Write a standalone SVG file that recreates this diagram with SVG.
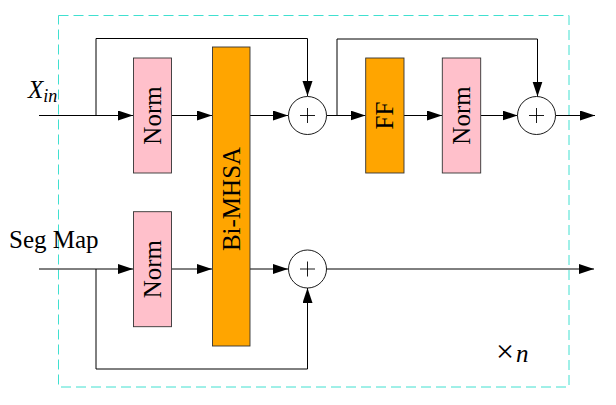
<svg xmlns="http://www.w3.org/2000/svg" width="616" height="405" viewBox="0 0 616 405">
  <style>
    .norm { fill: #FFC0CB; stroke: #333; stroke-width: 0.9; }
    .op { fill: #FFA500; stroke: #333; stroke-width: 0.9; }
    .sum { fill: #fff; stroke: #000; stroke-width: 0.9; }
    .plus { stroke: #000; stroke-width: 0.9; }
    .wire { fill: none; stroke: #000; stroke-width: 1; }
    .lbl { font-family: "Liberation Serif", "DejaVu Serif", serif; font-size: 25px; fill: #000; }
    .math { font-style: italic; }
  </style>
  <defs>
    <marker id="tip" markerUnits="userSpaceOnUse" markerWidth="16" markerHeight="12" refX="15" refY="5" orient="auto">
      <path d="M0,0 L15,5 L0,10 Z" fill="#000"/>
    </marker>
  </defs>

  <rect x="58.5" y="15.5" width="510.5" height="371.5" fill="none" stroke="#40E0D0" stroke-width="1" stroke-dasharray="10,5"/>

  <g id="connectors">
    <!-- top stream -->
    <path class="wire" d="M39,115.5 H133" marker-end="url(#tip)"/>
    <path class="wire" d="M96,115.5 V38.5 H307.5 V96" marker-end="url(#tip)"/>
    <path class="wire" d="M172,115.5 H212" marker-end="url(#tip)"/>
    <path class="wire" d="M250,115.5 H288" marker-end="url(#tip)"/>
    <path class="wire" d="M326.5,115.5 H365.5" marker-end="url(#tip)"/>
    <path class="wire" d="M337,115.5 V39 H537.5 V96.5" marker-end="url(#tip)"/>
    <path class="wire" d="M404,115.5 H442" marker-end="url(#tip)"/>
    <path class="wire" d="M481,115.5 H517.5" marker-end="url(#tip)"/>
    <path class="wire" d="M555.5,115.5 H595" marker-end="url(#tip)"/>
    <!-- bottom stream -->
    <path class="wire" d="M39,269 H133" marker-end="url(#tip)"/>
    <path class="wire" d="M96,269 V369 H307.5 V288" marker-end="url(#tip)"/>
    <path class="wire" d="M172,269 H212" marker-end="url(#tip)"/>
    <path class="wire" d="M250,269 H288" marker-end="url(#tip)"/>
    <path class="wire" d="M326.5,269 H594" marker-end="url(#tip)"/>
  </g>

  <g id="norm1">
    <rect class="norm" x="133.5" y="58" width="38" height="115"/>
    <text class="lbl" transform="translate(152.5,115.5) rotate(-90)" text-anchor="middle" dominant-baseline="central">Norm</text>
  </g>
  <g id="bimhsa">
    <rect class="op" x="212.5" y="47" width="37.5" height="299"/>
    <text class="lbl" transform="translate(231.3,199) rotate(-90)" text-anchor="middle" dominant-baseline="central">Bi-MHSA</text>
  </g>
  <g id="sum1">
    <circle class="sum" cx="307.5" cy="115.5" r="19"/>
    <path class="plus" d="M300,115.5 H315 M307.5,108 V123"/>
  </g>
  <g id="ff">
    <rect class="op" x="365.7" y="58" width="38.3" height="115"/>
    <text class="lbl" transform="translate(384.8,115.5) rotate(-90)" text-anchor="middle" dominant-baseline="central">FF</text>
  </g>
  <g id="norm2">
    <rect class="norm" x="442.3" y="58" width="38.4" height="115"/>
    <text class="lbl" transform="translate(461.5,115.5) rotate(-90)" text-anchor="middle" dominant-baseline="central">Norm</text>
  </g>
  <g id="sum2">
    <circle class="sum" cx="536.5" cy="115.5" r="19"/>
    <path class="plus" d="M529,115.5 H544 M536.5,108 V123"/>
  </g>
  <g id="norm3">
    <rect class="norm" x="133.5" y="211.7" width="38" height="115"/>
    <text class="lbl" transform="translate(152.5,269.2) rotate(-90)" text-anchor="middle" dominant-baseline="central">Norm</text>
  </g>
  <g id="sum3">
    <circle class="sum" cx="307.5" cy="269" r="19"/>
    <path class="plus" d="M300,269 H315 M307.5,261.5 V276.5"/>
  </g>

  <g id="labels">
    <text class="lbl" x="28" y="98"><tspan class="math">X</tspan><tspan class="math" font-size="18" dy="4">in</tspan></text>
    <text class="lbl" x="9" y="248">Seg Map</text>
    <text class="lbl" x="496" y="362"><tspan font-size="32">×</tspan><tspan class="math" dx="2">n</tspan></text>
  </g>
</svg>
